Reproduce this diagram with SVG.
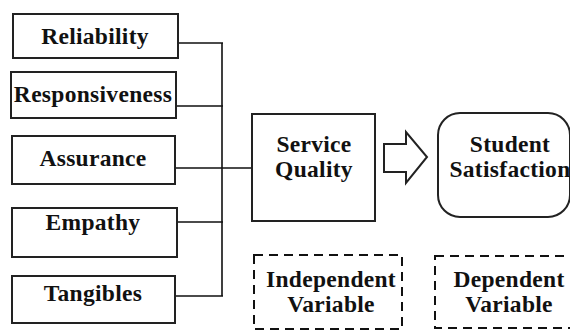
<svg xmlns="http://www.w3.org/2000/svg" width="570" height="331" viewBox="0 0 570 331">
<style>
.box{fill:#fff;stroke:#222;stroke-width:2}
.dash{fill:none;stroke:#111;stroke-width:2;stroke-dasharray:9 6}
.t{font-family:"Liberation Serif","Times New Roman",serif;font-weight:bold;font-size:23.5px;letter-spacing:0.3px;fill:#111;text-anchor:middle}
.c{fill:none;stroke:#111;stroke-width:1.6}
</style>
<rect width="570" height="331" fill="#fff"/>
<g id="connectors">
<path class="c" d="M178 43H223M176 106H223M175 168H252M177 222H223M175 296H223M222 43V296"/>
</g>
<g id="reliability"><rect class="box" x="13" y="14" width="165" height="44"/><text class="t" x="95" y="44">Reliability</text></g>
<g id="responsiveness"><rect class="box" x="11" y="72" width="165" height="46"/><text class="t" x="93" y="102">Responsiveness</text></g>
<g id="assurance"><rect class="box" x="12" y="136" width="163" height="48"/><text class="t" x="93" y="166">Assurance</text></g>
<g id="empathy"><rect class="box" x="12" y="208" width="165" height="49"/><text class="t" x="93" y="230">Empathy</text></g>
<g id="tangibles"><rect class="box" x="12" y="276" width="163" height="47"/><text class="t" x="93" y="301">Tangibles</text></g>
<g id="service-quality"><rect class="box" x="252" y="114" width="123" height="107"/><text class="t" x="314" y="152">Service</text><text class="t" x="314" y="177">Quality</text></g>
<g id="arrow"><path class="box" d="M384 144H406V132L427 157L406 183V172H384Z"/></g>
<g id="student-satisfaction"><rect class="box" x="438" y="113" width="132" height="104" rx="22"/><text class="t" x="510" y="152">Student</text><text class="t" x="510" y="177">Satisfaction</text></g>
<g id="independent-variable"><rect class="dash" x="254" y="255" width="148" height="74"/><text class="t" x="331" y="287">Independent</text><text class="t" x="331" y="312">Variable</text></g>
<g id="dependent-variable"><rect class="dash" x="435" y="256" width="140" height="72"/><text class="t" x="509" y="287">Dependent</text><text class="t" x="509" y="312">Variable</text></g>
</svg>
